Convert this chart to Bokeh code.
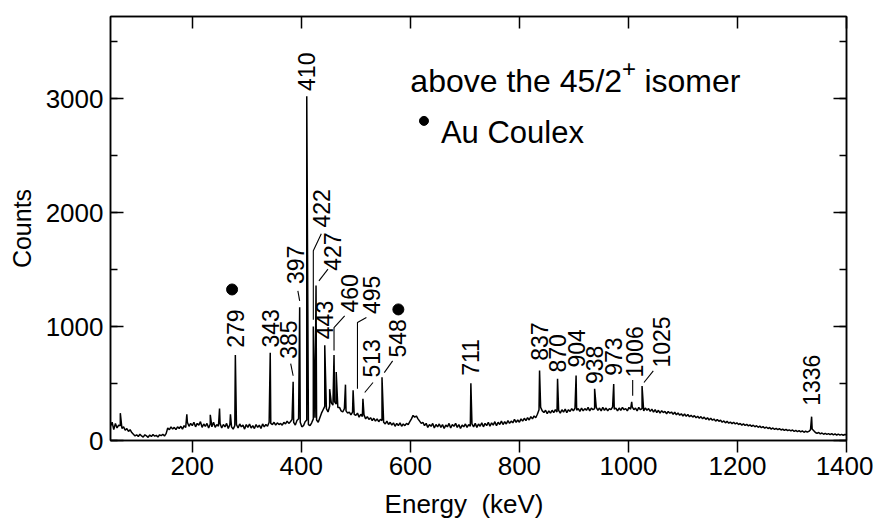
import math
from bokeh.plotting import figure
from bokeh.models import Range1d, LinearAxis, SingleIntervalTicker, Label
from bokeh.core.properties import value
from bokeh.embed import file_html
from bokeh.resources import INLINE

FONT = "Liberation Sans"

# ---------------------------------------------------------------- data
# Continuum counts, one value every 3 keV starting at 50 keV
bg_start = 50
bg_step = 3
background = [
    125, 160, 95, 150, 110, 135, 130, 105, 120, 90,      # 50-77
    105, 80, 95, 70, 55, 40, 50, 35, 55, 40,             # 80-107
    30, 50, 40, 28, 48, 35, 52, 38, 45, 30,              # 110-137
    50, 42, 55, 40, 60, 110, 95, 120, 100, 115,          # 140-167
    95, 120, 105, 125, 100, 130, 115, 160, 125, 150,     # 170-197
    130, 160, 120, 150, 135, 165, 115, 145, 125, 150,    # 200-227
    110, 145, 120, 160, 115, 140, 125, 150, 110, 140,    # 230-257
    120, 150, 105, 140, 120, 100, 130, 140, 110, 145,    # 260-287
    120, 135, 100, 140, 115, 145, 110, 130, 105, 140,    # 290-317
    115, 135, 105, 145, 120, 140, 125, 160, 150, 140,    # 320-347
    160, 135, 155, 140, 150, 135, 160, 145, 170, 150,    # 350-377
    165, 185, 160, 135, 175, 190, 160, 120, 130, 165,    # 380-407
    180, 140, 130, 155, 190, 200, 180, 160, 200, 240,    # 410-437
    270, 300, 280, 250, 300, 330, 310, 340, 320, 290,    # 440-467
    290, 260, 250, 280, 260, 240, 250, 225, 250, 230,    # 470-497
    220, 240, 205, 230, 210, 225, 190, 210, 185, 200,    # 500-527
    175, 195, 170, 190, 165, 185, 175, 160, 145, 170,    # 530-557
    140, 160, 135, 155, 125, 150, 130, 155, 125, 145,    # 560-587
    130, 150, 140, 165, 190, 220, 205, 215, 190, 170,    # 590-617
    150, 160, 130, 150, 115, 140, 125, 150, 110, 140,    # 620-647
    120, 145, 115, 140, 105, 135, 120, 150, 110, 140,    # 650-677
    125, 150, 115, 140, 105, 135, 120, 145, 115, 140,    # 680-707
    125, 145, 120, 150, 115, 145, 125, 155, 120, 150,    # 710-737
    130, 160, 125, 155, 135, 165, 130, 160, 140, 170,    # 740-767
    140, 165, 145, 175, 150, 170, 155, 185, 160, 180,    # 770-797
    160, 190, 170, 195, 175, 200, 180, 210, 190, 215,    # 800-827
    200, 230, 270, 290, 260, 245, 265, 235, 260, 240,    # 830-857
    265, 245, 270, 250, 265, 240, 270, 250, 275, 245,    # 860-887
    270, 255, 280, 260, 285, 265, 280, 255, 285, 260,    # 890-917
    280, 265, 290, 260, 285, 270, 280, 290, 265, 285,    # 920-947
    260, 290, 265, 285, 260, 280, 270, 295, 275, 285,    # 950-977
    260, 285, 265, 290, 270, 280, 260, 290, 275, 295,    # 980-1007
    270, 285, 260, 290, 270, 280, 260, 285, 265, 280,    # 1010-1037
    255, 275, 250, 270, 245, 265, 240, 262, 245, 255,    # 1040-1067
    235, 255, 240, 250, 230, 248, 225, 242, 222, 235,    # 1070-1097
    215, 232, 212, 228, 208, 222, 205, 218, 200, 212,    # 1100-1127
    195, 210, 190, 205, 185, 200, 180, 195, 178, 188,    # 1130-1157
    170, 185, 168, 178, 160, 172, 155, 168, 152, 162,    # 1160-1187
    148, 160, 145, 155, 140, 150, 135, 146, 132, 142,    # 1190-1217
    128, 138, 124, 134, 120, 130, 116, 126, 112, 122,    # 1220-1247
    108, 118, 105, 114, 100, 110, 98, 106, 95, 104,      # 1250-1277
    92, 100, 88, 97, 86, 94, 84, 92, 80, 88,             # 1280-1307
    78, 86, 75, 84, 72, 82, 74, 80, 95, 100,             # 1310-1337
    85, 70, 62, 70, 58, 66, 55, 63, 54, 60,              # 1340-1367
    52, 60, 50, 58, 48, 56, 47, 54, 46, 53,              # 1370-1397
    50,                                                  # 1400
]

# Photopeaks: energy (keV) and peak counts
peak_energy = [68, 190, 233, 250, 270, 279, 343, 385, 397, 410, 422, 427, 443,
               452, 460, 464, 481, 495, 513, 548, 711, 837, 870, 904, 938, 973,
               1006, 1025, 1336]
peak_counts = [240, 230, 225, 280, 230, 750, 770, 515, 1170, 3020, 1000, 1360, 835,
               450, 750, 600, 490, 440, 365, 555, 502, 614, 541, 570, 453, 495,
               340, 478, 209]

# Transitions that carry an energy label
labelled = [279, 343, 385, 397, 410, 422, 427, 443, 460, 495, 513, 548, 711,
            837, 870, 904, 938, 973, 1006, 1025, 1336]
# Lines from Coulomb excitation of the gold target
coulex = [279, 548]

# ---------------------------------------------------------------- label layout
# energy -> (label x offset keV, label base counts, leader points [(dx keV, counts)])
label_layout = {
    279: (0, 813, []),
    343: (0, 816, []),
    385: (-7.7, 717, [(0, 568), (-4.5, 675)]),
    397: (-7.9, 1372, [(0, 1225), (-3.3, 1313)]),
    410: (0, 3067, []),
    422: (14.7, 1868, [(0, 1060), (0, 1664), (14.7, 1813)]),
    427: (31, 1489, [(5.3, 1401), (21.9, 1503)]),
    443: (0, 889, []),
    460: (28.6, 1123, [(0, 790), (0, 991), (19.5, 1094)]),
    495: (33.6, 1109, [(8, 455), (8, 1035), (24.4, 1079)]),
    513: (15.6, 553, [(3.3, 421), (18.5, 509)]),
    548: (28.6, 728, [(4.2, 596), (19.5, 699)]),
    711: (0, 568, []),
    837: (0, 699, []),
    870: (0, 596, []),
    904: (0, 640, []),
    938: (0, 495, []),
    973: (0, 568, []),
    1006: (4.8, 553, [(1.8, 392), (1.8, 530)]),
    1025: (36, 640, [(3.5, 509), (20.6, 611)]),
    1336: (0, 304, []),
}
# Coulex marker placement: energy -> (dx keV, counts)
coulex_marks = {279: (-6, 1325), 548: (30, 1150)}

# ---------------------------------------------------------------- spectrum
pts = [(bg_start + i * bg_step, 0, c) for i, c in enumerate(background)]
pts += [(e, 1, c) for e, c in zip(peak_energy, peak_counts)]
pts.sort()
spec_x = [q[0] for q in pts]
spec_y = [q[2] for q in pts]

p = figure(width=873, height=521, output_backend="svg", toolbar_location=None,
           x_range=Range1d(50, 1400), y_range=Range1d(0, 3720),
           min_border_left=110, min_border_right=27, min_border_top=16,
           min_border_bottom=81)
p.background_fill_color = "white"
p.border_fill_color = "white"
p.outline_line_color = "black"
p.outline_line_width = 1.5
p.xgrid.visible = False
p.ygrid.visible = False

p.line(spec_x, spec_y, line_color="black", line_width=1.5)

# axes
xa = p.xaxis[0]
xa.ticker = SingleIntervalTicker(interval=200, num_minor_ticks=0)
xa.major_tick_in = 0
xa.major_tick_out = 12
xa.minor_tick_out = 0
xa.minor_tick_in = 0
xa.major_label_standoff = 4
xa.major_label_text_font = FONT
xa.major_label_text_font_size = "26px"
xa.major_label_text_color = "black"
xa.axis_line_width = 1.5
xa.major_tick_line_width = 1.5
xa.axis_label = "Energy\u00a0 (keV)\u00a0\u00a0\u00a0\u00a0"
xa.axis_label_text_font = FONT
xa.axis_label_text_font_size = "26px"
xa.axis_label_text_font_style = "normal"
xa.axis_label_text_color = "black"
xa.axis_label_standoff = 11

ya = p.yaxis[0]
ya.ticker = SingleIntervalTicker(interval=1000, num_minor_ticks=2)
ya.major_tick_in = 13
ya.major_tick_out = 0
ya.minor_tick_in = 7
ya.minor_tick_out = 0
ya.major_label_standoff = 7
ya.major_label_text_font = FONT
ya.major_label_text_font_size = "26px"
ya.major_label_text_color = "black"
ya.axis_label = "Counts"
ya.axis_label_text_font = FONT
ya.axis_label_text_font_size = "25px"
ya.axis_label_text_font_style = "normal"
ya.axis_label_text_color = "black"
ya.axis_label_standoff = 7
ya.axis_line_width = 1.5
ya.major_tick_line_width = 1.5
ya.minor_tick_line_width = 1.5

top = LinearAxis(ticker=SingleIntervalTicker(interval=200, num_minor_ticks=0),
                 major_tick_in=12, major_tick_out=0, minor_tick_in=0, minor_tick_out=0,
                 major_label_text_font_size="1px", major_label_text_color=None,
                 major_label_standoff=0,
                 axis_line_width=1.5, major_tick_line_width=1.5)
p.add_layout(top, "above")
right = LinearAxis(ticker=SingleIntervalTicker(interval=1000, num_minor_ticks=2),
                   major_tick_in=13, major_tick_out=0, minor_tick_in=7, minor_tick_out=0,
                   major_label_text_font_size="1px", major_label_text_color=None,
                   major_label_standoff=0,
                   axis_line_width=1.5, major_tick_line_width=1.5,
                   minor_tick_line_width=1.5)
p.add_layout(right, "right")

# peak labels and leader lines
lab_x, lab_y, lab_t = [], [], []
lead_xs, lead_ys = [], []
for e in labelled:
    dx, y0, leader = label_layout[e]
    lab_x.append(e + dx)
    lab_y.append(y0)
    lab_t.append(str(e))
    if leader:
        lead_xs.append([e + d for d, _ in leader])
        lead_ys.append([c for _, c in leader])

p.text(x=lab_x, y=lab_y, text=lab_t, angle=math.pi / 2, text_align="left",
       text_baseline="middle", text_font=value(FONT), text_font_size="23px",
       text_color="black")
p.multi_line(xs=lead_xs, ys=lead_ys, line_color="black", line_width=1.1)

# Au Coulex markers
p.scatter(x=[e + coulex_marks[e][0] for e in coulex],
          y=[coulex_marks[e][1] for e in coulex],
          size=11, marker="circle", fill_color="black", line_color="black")

# key
p.add_layout(Label(x=600, y=3155, text="above the 45/2", text_font=FONT,
                   text_font_size="32px", text_baseline="alphabetic",
                   text_color="black"))
p.add_layout(Label(x=988, y=3262, text="+", text_font=FONT,
                   text_font_size="24px", text_baseline="alphabetic",
                   text_color="black"))
p.add_layout(Label(x=1013, y=3155, text="\u00a0isomer", text_font=FONT,
                   text_font_size="32px", text_baseline="alphabetic",
                   text_color="black"))
p.scatter(x=[625], y=[2804], size=9, marker="circle", fill_color="black",
          line_color="black")
p.add_layout(Label(x=656, y=2700, text="Au Coulex", text_font=FONT,
                   text_font_size="31px", text_baseline="alphabetic",
                   text_color="black"))

open("out.html", "w").write(file_html(p, INLINE))
